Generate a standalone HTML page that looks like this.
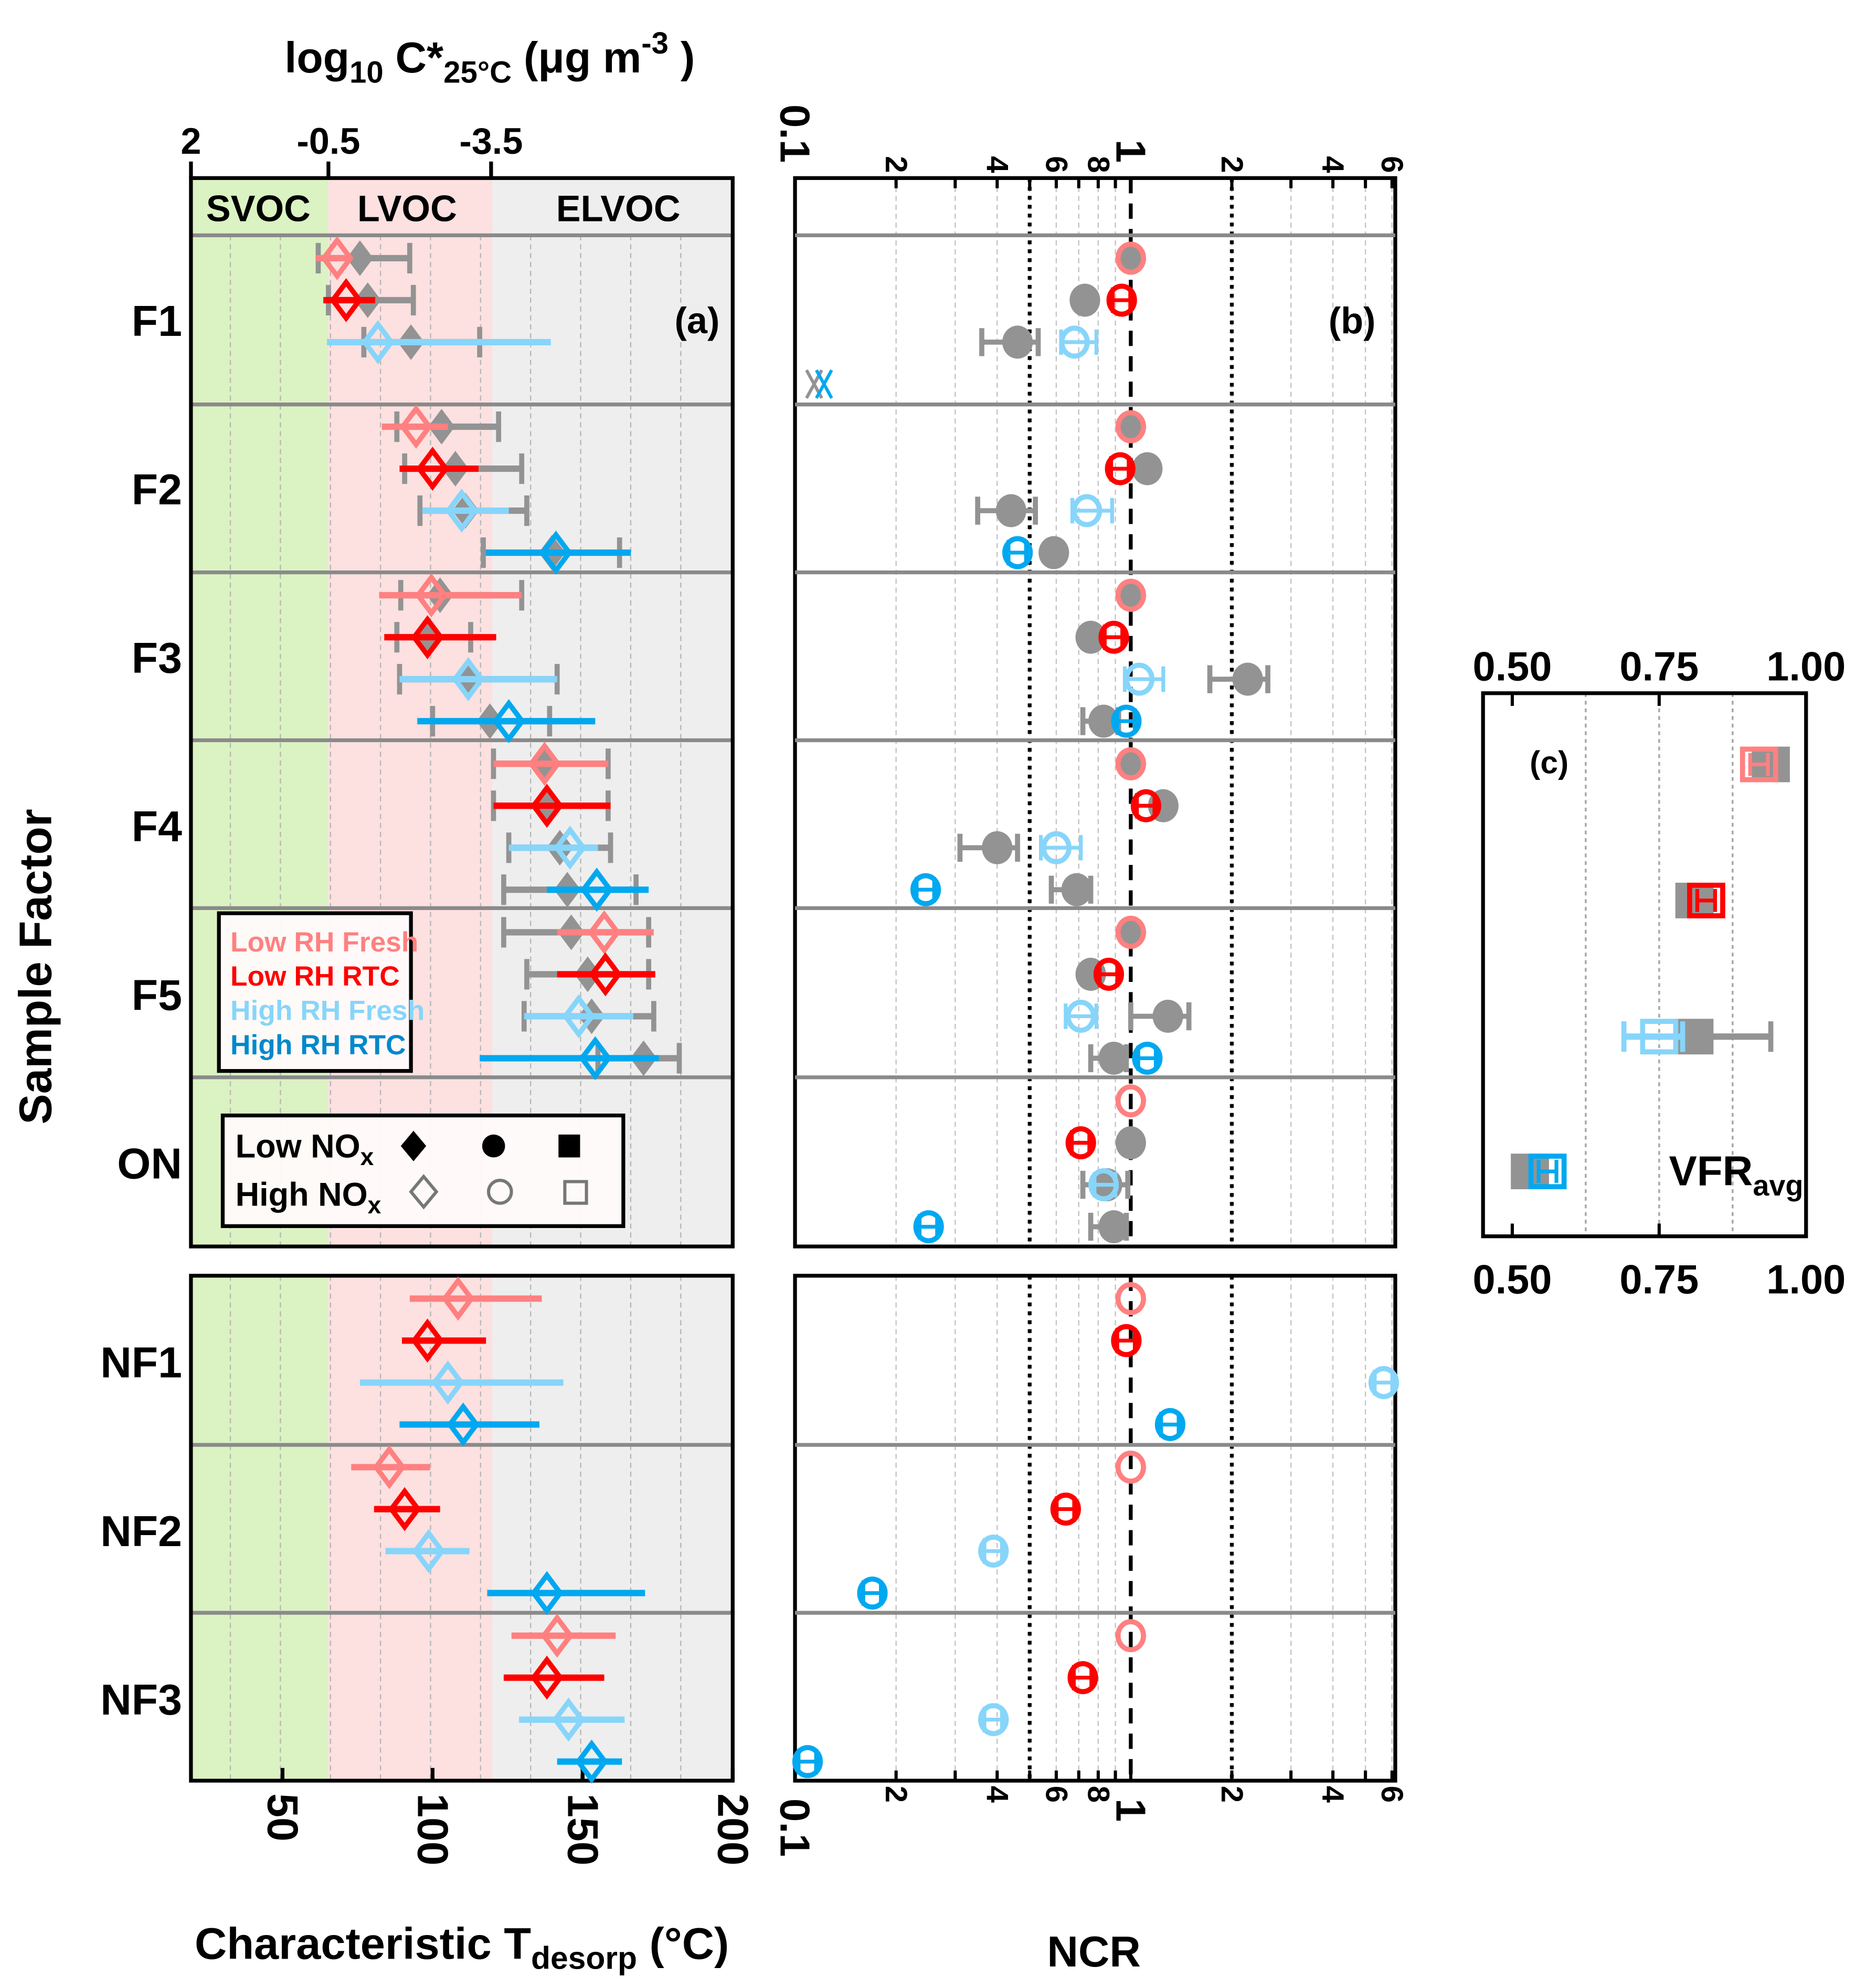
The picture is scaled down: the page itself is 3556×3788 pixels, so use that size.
<!DOCTYPE html>
<html><head><meta charset="utf-8"><style>
html,body{margin:0;padding:0;background:#fff;}
svg{display:block;font-family:"Liberation Sans",sans-serif;font-weight:bold;}
</style></head><body>
<svg id="fig" xmlns="http://www.w3.org/2000/svg" width="3556" height="3788" viewBox="0 0 1467 1563"></svg>
<script>
// ---------- data ----------
const rowNames = ['F1','F2','F3','F4','F5','ON','NF1','NF2','NF3'];
const seriesNames = ['Low RH Fresh','Low RH RTC','High RH Fresh','High RH RTC'];
const seriesColors = ['#ff8080','#ff0000','#87d5fa','#00a8f0'];
const topTickLabels = ['2','-0.5','-3.5'];
const topTickT = [19.5,65.3,119.5];
const aTickValues = [50,100,150,200];
const bMajorTicks = [0.1,1];
const bMinorLabels = [0.2,0.4,0.6,0.8,2,4,6];
const bMinorTicks = [0.2,0.3,0.4,0.5,0.6,0.7,0.8,0.9,2,3,4,5,6];
const cTicks = [0.5,0.75,1.0];
const cTickLabels = ['0.50','0.75','1.00'];

// panel (a) Tdesorp (°C) -- coloured (high NOx)
const aLowFreshT  = [68.2,94.5,99.6,137.3,157.2,null,108.5,85.6,141.5];
const aLowFreshLo = [61.0,83.1,82.2,120.3,141.5,null,92.4,72.9,126.3];
const aLowFreshHi = [71.6,105.1,129.7,158.5,173.7,null,136.4,99.2,161.0];
const aLowRtcT  = [71.2,100,98.3,138.1,157.6,null,98.3,90.7,138.1];
const aLowRtcLo = [63.6,89.0,83.9,120.3,141.5,null,89.8,80.5,123.7];
const aLowRtcHi = [80.9,115.3,121.2,159.3,174.2,null,117.8,102.5,157.2];
const aHighFreshT  = [81.8,109.7,111.9,145.8,148.7,null,105.1,98.7,145.3];
const aHighFreshLo = [64.8,96.6,89.0,125.4,130.5,null,75.8,84.3,128.8];
const aHighFreshHi = [139.4,125.4,141.5,155.1,166.9,null,143.6,112.3,164.0];
const aHighRtcT  = [null,141.1,125.4,154.7,154.2,null,110.2,138.1,153.0];
const aHighRtcLo = [null,117.8,94.9,138.1,115.7,null,89.0,118.2,141.5];
const aHighRtcHi = [null,166.1,154.2,172.0,175.4,null,135.6,170.8,163.1];
// panel (a) grey (low NOx)
const gLowFreshT  = [75.8,103.0,102.5,137.3,146.2];
const gLowFreshLo = [61.9,88.1,89.4,120.3,123.7];
const gLowFreshHi = [92.4,122.0,129.7,158.5,172.0];
const gLowRtcT  = [78.4,107.6,98.3,138.1,151.7];
const gLowRtcLo = [65.3,90.7,88.1,120.3,131.4];
const gLowRtcHi = [93.6,129.7,112.7,158.5,172.0];
const gHighFreshT  = [92.8,111.0,111.9,142.4,153.0];
const gHighFreshLo = [77.1,95.8,89.0,125.4,130.5];
const gHighFreshHi = [115.7,131.4,141.5,159.3,173.7];
const gHighRtcT  = [null,139.8,119.1,144.9,170.3];
const gHighRtcLo = [null,116.9,100,123.7,155.1];
const gHighRtcHi = [null,162.3,139.0,167.8,182.2];

// panel (b) NCR
const bLowFresh  = [1,1,1,1,1,1,1,1,1];
const bLowRtc    = [0.94,0.93,0.89,1.11,0.86,0.71,0.97,0.64,0.72];
const bHighFresh = [0.68,0.74,1.06,0.60,0.71,0.83,5.67,0.39,0.39];
const bHighFreshLo = [0.62,0.67,0.96,0.54,0.64,0.78,null,null,null];
const bHighFreshHi = [0.79,0.88,1.25,0.71,0.79,0.90,null,null,null];
const bHighRtc   = [0.122,0.46,0.97,0.245,1.12,0.25,1.31,0.17,0.109];
const gbLowFresh  = [1,1,1,1,1,null];
const gbLowRtc    = [0.73,1.12,0.76,1.25,0.76,1.0];
const gbHighFresh = [0.46,0.44,2.23,0.40,1.29,0.85];
const gbHighFreshLo = [0.36,0.35,1.72,0.31,1.0,0.72];
const gbHighFreshHi = [0.53,0.52,2.56,0.46,1.49,0.98];
const gbHighRtc   = [0.114,0.59,0.83,0.69,0.89,0.89];
const gbHighRtcLo = [null,null,0.72,0.58,0.76,0.76];
const gbHighRtcHi = [null,null,0.92,0.76,0.97,0.97];
const bCrossRows = [0];

// panel (c) VFRavg
const cVal = [0.92,0.83,0.75,0.56];
const cValLo = [null,null,0.69,null];
const cValHi = [null,null,0.79,null];
const cGray = [0.94,0.81,0.81,0.53];
const cGrayLo = [null,null,0.78,null];
const cGrayHi = [null,null,0.94,null];

// ---------- helpers ----------
const NS='http://www.w3.org/2000/svg';
const svg=document.getElementById('fig');
function el(tag,attrs,parent,text){const e=document.createElementNS(NS,tag);for(const k in attrs)e.setAttribute(k,attrs[k]);if(text!==undefined)e.textContent=text;(parent||svg).appendChild(e);return e;}
const xA=t=>340+(t-100)*2.36;
const xB=v=>889+Math.log10(v)*264;
const xC=v=>1189+(v-0.5)*462;
function rowY(r,k){return r<6?185+r*132.5+18+k*33:1003+(r-6)*132.5+18+k*33;}
const GRAY='#939393';

// ---------- panel (a) ----------
const pa=el('g',{});


function bands(y0,y1){
  el('rect',{x:150,y:y0,width:108,height:y1-y0,fill:'#dbf2c2'},pa);
  el('rect',{x:258,y:y0,width:129,height:y1-y0,fill:'#fde0e0'},pa);
  el('rect',{x:387,y:y0,width:189,height:y1-y0,fill:'#eeeeee'},pa);
  for(let i=0;i<10;i++){const x=181+i*39.35;el('line',{x1:x,x2:x,y1:y0+(y0<500?45:0),y2:y1,stroke:'#b8b8b8','stroke-width':1,'stroke-dasharray':'4,3'},pa);}
}
bands(140,980); bands(1003,1400);
[185,318,450,582,714,847].forEach(y=>el('line',{x1:150,x2:576,y1:y,y2:y,stroke:'#8a8a8a','stroke-width':3},pa));
[1136,1268].forEach(y=>el('line',{x1:150,x2:576,y1:y,y2:y,stroke:'#8a8a8a','stroke-width':3},pa));
[['SVOC',203],['LVOC',320],['ELVOC',486]].forEach(([t,x])=>{const e=el('text',{x:x,y:174,'text-anchor':'middle','font-size':29},pa,t);});
el('rect',{x:150,y:140,width:426,height:840,fill:'none',stroke:'#000','stroke-width':3},pa);
el('rect',{x:150,y:1003,width:426,height:397,fill:'none',stroke:'#000','stroke-width':3},pa);
// top axis
topTickLabels.forEach((l,i)=>{const x=xA(topTickT[i]);el('line',{x1:x,x2:x,y1:140,y2:127,stroke:'#000','stroke-width':3},pa);const e=el('text',{x:x,y:121,'text-anchor':'middle','font-size':29},pa,l);});
// bottom axis
aTickValues.forEach(v=>{const x=xA(v);el('line',{x1:x,x2:x,y1:1400,y2:1390,stroke:'#000','stroke-width':3},pa);const e=el('text',{x:x,y:1410,transform:`rotate(90 ${x} 1410)`,'dominant-baseline':'central','font-size':34},pa,String(v));});

function diamond(x,y,filled,color,g){const s=14;return el('polygon',{points:`${x},${y-s} ${x+s*0.75},${y} ${x},${y+s} ${x-s*0.75},${y}`,fill:filled?color:'none',stroke:filled?'none':color,'stroke-width':4},g);}
const aGray=[[gLowFreshT,gLowFreshLo,gLowFreshHi],[gLowRtcT,gLowRtcLo,gLowRtcHi],[gHighFreshT,gHighFreshLo,gHighFreshHi],[gHighRtcT,gHighRtcLo,gHighRtcHi]];
const aCol=[[aLowFreshT,aLowFreshLo,aLowFreshHi],[aLowRtcT,aLowRtcLo,aLowRtcHi],[aHighFreshT,aHighFreshLo,aHighFreshHi],[aHighRtcT,aHighRtcLo,aHighRtcHi]];
for(let r=0;r<9;r++){for(let k=0;k<4;k++){const y=rowY(r,k);
  const [gt,gl,gh]=aGray[k];
  if(gt[r]!=null){const g=el('g',{},pa);
    el('line',{x1:xA(gl[r]),x2:xA(gh[r]),y1:y,y2:y,stroke:GRAY,'stroke-width':5},g);
    [gl[r],gh[r]].forEach(v=>el('line',{x1:xA(v),x2:xA(v),y1:y-12,y2:y+12,stroke:GRAY,'stroke-width':4},g));
    diamond(xA(gt[r]),y,true,GRAY,g);}
}
for(let k=0;k<4;k++){const y=rowY(r,k);const [ct,cl,ch]=aCol[k];
  if(ct[r]!=null){const g=el('g',{},pa);
    el('line',{x1:xA(cl[r]),x2:xA(ch[r]),y1:y,y2:y,stroke:seriesColors[k],'stroke-width':5},g);
    diamond(xA(ct[r]),y,false,seriesColors[k],g);}
}}
// row labels
rowNames.forEach((n,r)=>{const y=r<6?252+r*132.5:1071+(r-6)*132.5;const e=el('text',{x:143,y:y+12,'text-anchor':'end','font-size':34},null,n);});
{const e=el('text',{x:548,y:262,'text-anchor':'middle','font-size':29},pa,'(a)');}
// legend 1
{const g=el('g',{},pa);
 el('rect',{x:172,y:718,width:151,height:124,fill:'#fffafa','fill-opacity':0.95,stroke:'#000','stroke-width':3},g);
 seriesNames.forEach((n,i)=>{const e=el('text',{x:181,y:748+i*27,'font-size':22,fill:i==3?'#0088cc':seriesColors[i]},g,n);});}
// legend 2
{const g=el('g',{},pa);
 el('rect',{x:175,y:877,width:315,height:87,fill:'#fffafa','fill-opacity':0.95,stroke:'#000','stroke-width':3},g);
 const t1=el('text',{x:185,y:910,'font-size':26},g);t1.innerHTML='Low NO<tspan dy="6" font-size="19">x</tspan>';
 const t2=el('text',{x:185,y:948,'font-size':26},g);t2.innerHTML='High NO<tspan dy="6" font-size="19">x</tspan>';
 el('polygon',{points:'325,889 335,901 325,913 315,901',fill:'#000'},g);
 el('circle',{cx:388,cy:901,r:9,fill:'#000'},g);
 el('rect',{x:439,y:892,width:17,height:18,fill:'#000'},g);
 el('polygon',{points:'333,925 343,937 333,949 323,937',fill:'none',stroke:'#777','stroke-width':2.5},g);
 el('circle',{cx:393,cy:937,r:9,fill:'none',stroke:'#777','stroke-width':2.5},g);
 el('rect',{x:444,y:929,width:17,height:17,fill:'none',stroke:'#777','stroke-width':2.5},g);}
// axis titles
{const e=el('text',{x:385,y:57,'text-anchor':'middle','font-size':34});e.innerHTML='log<tspan dy="8" font-size="24">10</tspan><tspan dy="-8"> C*</tspan><tspan dy="8" font-size="24">25°C</tspan><tspan dy="-8"> (μg m</tspan><tspan dy="-15" font-size="24">-3</tspan><tspan dy="15"> )</tspan>';}
{const e=el('text',{x:363,y:1540,'text-anchor':'middle','font-size':35});e.innerHTML='Characteristic T<tspan dy="8" font-size="25">desorp</tspan><tspan dy="-8"> (°C)</tspan>';}
{const e=el('text',{x:40,y:760,transform:'rotate(-90 40 760)','text-anchor':'middle','font-size':36},null,'Sample Factor');}

// ---------- panel (b) ----------
const pb=el('g',{});


function bFrame(y0,y1,top){
  bMinorTicks.forEach(v=>el('line',{x1:xB(v),x2:xB(v),y1:y0,y2:y1,stroke:'#c4c4c4','stroke-width':1,'stroke-dasharray':'4,3'},pb));
  [0.5,2].forEach(v=>el('line',{x1:xB(v),x2:xB(v),y1:y0,y2:y1,stroke:'#000','stroke-width':3,'stroke-dasharray':'3,4'},pb));
  el('line',{x1:xB(1),x2:xB(1),y1:y0,y2:y1,stroke:'#000','stroke-width':3,'stroke-dasharray':'12,8'},pb);
  el('rect',{x:625,y:y0,width:472,height:y1-y0,fill:'none',stroke:'#000','stroke-width':3},pb);
  bMinorTicks.concat([1]).forEach(v=>{const yy=top?y0:y1;el('line',{x1:xB(v),x2:xB(v),y1:yy,y2:top?yy+8:yy-8,stroke:'#000','stroke-width':2.5},pb);});
}
bFrame(140,980,true); bFrame(1003,1400,false);
[185,318,450,582,714,847,1136,1268].forEach(y=>el('line',{x1:625,x2:1097,y1:y,y2:y,stroke:'#8a8a8a','stroke-width':3},pb));
bMinorLabels.forEach(v=>{const x=xB(v);const lab=v<1?String(Math.round(v*10)):String(v);
  let e=el('text',{x:x,y:136,transform:`rotate(90 ${x} 136)`,'text-anchor':'end','dominant-baseline':'central','font-size':24},pb,lab);
  e=el('text',{x:x,y:1404,transform:`rotate(90 ${x} 1404)`,'dominant-baseline':'central','font-size':24},pb,lab);});
bMajorTicks.forEach(v=>{const x=xB(v);
  let e=el('text',{x:x,y:128,transform:`rotate(90 ${x} 128)`,'text-anchor':'end','dominant-baseline':'central','font-size':33},pb,String(v));
  e=el('text',{x:x,y:1414,transform:`rotate(90 ${x} 1414)`,'dominant-baseline':'central','font-size':33},pb,String(v));});
{const e=el('text',{x:1063,y:262,'text-anchor':'middle','font-size':29},pb,'(b)');}
{const e=el('text',{x:860,y:1546,'text-anchor':'middle','font-size':34},null,'NCR');}
const gbAll=[[gbLowFresh,null,null],[gbLowRtc,null,null],[gbHighFresh,gbHighFreshLo,gbHighFreshHi],[gbHighRtc,gbHighRtcLo,gbHighRtcHi]];
const bAll=[[bLowFresh,null,null],[bLowRtc,null,null],[bHighFresh,bHighFreshLo,bHighFreshHi],[bHighRtc,null,null]];
function cross(x,y,c,g){el('line',{x1:x-6,x2:x+6,y1:y-11,y2:y+11,stroke:c,'stroke-width':2.5},g);el('line',{x1:x+6,x2:x-6,y1:y-11,y2:y+11,stroke:c,'stroke-width':2.5},g);}
for(let r=0;r<9;r++){
  for(let k=0;k<4;k++){const [v,lo,hi]=gbAll[k];if(r>=v.length||v[r]==null)continue;const y=rowY(r,k);const x=xB(v[r]);
    const g=el('g',{},pb);
    if(k==3&&bCrossRows.includes(r)){cross(x,y,GRAY,g);continue;}
    if(lo&&lo[r]!=null){el('line',{x1:xB(lo[r]),x2:xB(hi[r]),y1:y,y2:y,stroke:GRAY,'stroke-width':4},g);[lo[r],hi[r]].forEach(q=>el('line',{x1:xB(q),x2:xB(q),y1:y-11,y2:y+11,stroke:GRAY,'stroke-width':4},g));}
    el('ellipse',{cx:x,cy:y,rx:12,ry:13,fill:GRAY},g);}
  for(let k=0;k<4;k++){const [v,lo,hi]=bAll[k];const y=rowY(r,k);const x=xB(v[r]);const c=seriesColors[k];
    const g=el('g',{},pb);
    if(k==3&&bCrossRows.includes(r)){cross(x,y,c,g);continue;}
    const l=lo&&lo[r]!=null?lo[r]:v[r]*0.94, h=hi&&hi[r]!=null?hi[r]:v[r]*1.06;
    if(!(k==0)){el('line',{x1:xB(l),x2:xB(h),y1:y,y2:y,stroke:c,'stroke-width':3},g);[l,h].forEach(q=>el('line',{x1:xB(q),x2:xB(q),y1:y-10,y2:y+10,stroke:c,'stroke-width':3},g));}
    el('ellipse',{cx:x,cy:y,rx:10,ry:11,fill:'none',stroke:c,'stroke-width':4},g);}
}

// ---------- panel (c) ----------
const pc=el('g',{});


[0.625,0.75,0.875].forEach(v=>el('line',{x1:xC(v),x2:xC(v),y1:545,y2:972,stroke:'#aaa','stroke-width':1.5,'stroke-dasharray':'3,3'},pc));
el('rect',{x:1166,y:545,width:254,height:427,fill:'none',stroke:'#000','stroke-width':3},pc);
cTicks.forEach((v,i)=>{const x=xC(v);el('line',{x1:x,x2:x,y1:545,y2:555,stroke:'#000','stroke-width':2.5},pc);el('line',{x1:x,x2:x,y1:972,y2:962,stroke:'#000','stroke-width':2.5},pc);
  let e=el('text',{x:x,y:535,'text-anchor':'middle','font-size':32},pc,cTickLabels[i]);
  e=el('text',{x:x,y:1017,'text-anchor':'middle','font-size':32},pc,cTickLabels[i]);});
{const e=el('text',{x:1218,y:608,'text-anchor':'middle','font-size':25},pc,'(c)');}
{const e=el('text',{x:1365,y:932,'text-anchor':'middle','font-size':33},pc);e.innerHTML='VFR<tspan dy="8" font-size="23">avg</tspan>';}
const cY=[601,708,815,921];
cVal.forEach((v,k)=>{const y=cY[k];
  const g=el('g',{},pc);
  if(cGrayLo[k]!=null){el('line',{x1:xC(cGrayLo[k]),x2:xC(cGrayHi[k]),y1:y,y2:y,stroke:GRAY,'stroke-width':5},g);el('line',{x1:xC(cGrayHi[k]),x2:xC(cGrayHi[k]),y1:y-12,y2:y+12,stroke:GRAY,'stroke-width':4},g);}
  el('rect',{x:xC(cGray[k])-15,y:y-14,width:30,height:28,fill:GRAY},g);
  const c=seriesColors[k];
  if(cValLo[k]!=null){el('line',{x1:xC(cValLo[k]),x2:xC(cValHi[k]),y1:y,y2:y,stroke:c,'stroke-width':5},g);[cValLo[k],cValHi[k]].forEach(q=>el('line',{x1:xC(q),x2:xC(q),y1:y-12,y2:y+12,stroke:c,'stroke-width':4},g));}
  else{el('line',{x1:xC(v)-7,x2:xC(v)+7,y1:y,y2:y,stroke:c,'stroke-width':3},g);[-7,7].forEach(d=>el('line',{x1:xC(v)+d,x2:xC(v)+d,y1:y-9,y2:y+9,stroke:c,'stroke-width':3},g));}
  el('rect',{x:xC(v)-13,y:y-12,width:26,height:24,fill:'none',stroke:c,'stroke-width':4},g);
});
</script>
</body></html>
